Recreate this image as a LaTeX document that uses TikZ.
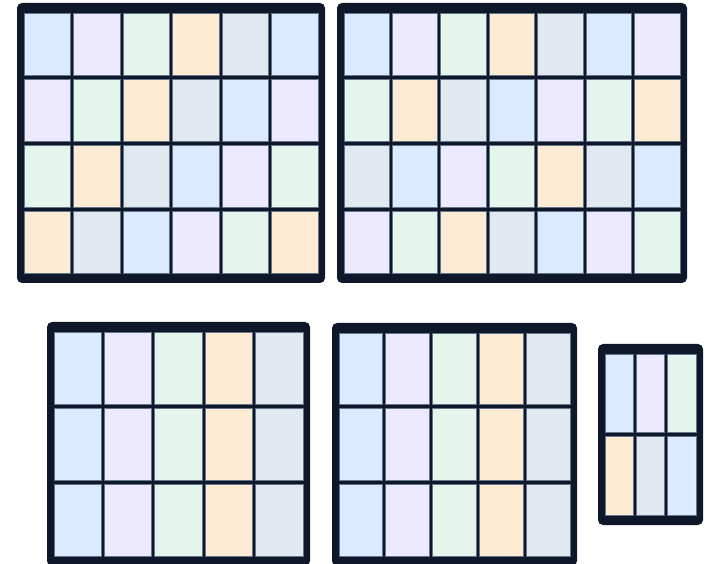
\documentclass[tikz,border=0pt]{standalone}
\definecolor{frame}{HTML}{0F172A}
\definecolor{cellline}{HTML}{64748B}
\definecolor{c0}{HTML}{DBEAFE}
\definecolor{c1}{HTML}{EDE9FE}
\definecolor{c2}{HTML}{E4F5EC}
\definecolor{c3}{HTML}{FDECD3}
\definecolor{c4}{HTML}{E2E8F0}
\tikzset{
  framebox/.style={fill=frame, rounded corners=5pt},
  cellbox/.style={draw=cellline, line width=0.9pt}
}
% #1 x0, #2 y0, #3 x1, #4 y1 (outer, px, top-down), #5 cols, #6 rows
\newcommand\gridbox[6]{%
  \fill[framebox] (#1,#2) rectangle (#3,#4);
  \pgfmathsetmacro\gw{((#3)-(#1)-14-((#5)-1)*3)/(#5)}%
  \pgfmathsetmacro\gh{((#4)-(#2)-20-((#6)-1)*4)/(#6)}%
  \foreach \r in {1,...,#6}{\foreach \c in {1,...,#5}{%
    \pgfmathtruncatemacro\idx{mod((\r-1)*(#5)+\c-1,5)}%
    \pgfmathsetmacro\cx{#1+7+(\c-1)*(\gw+3)}%
    \pgfmathsetmacro\cy{#2+10+(\r-1)*(\gh+4)}%
    \filldraw[cellbox, fill=c\idx] (\cx,\cy) rectangle ++(\gw,\gh);
  }}%
}
\begin{document}
\begin{tikzpicture}[x=1pt,y=-1pt]
\useasboundingbox (0,0) rectangle (705,564);
\clip (0,0) rectangle (705,564);
\gridbox{17}{3}{325}{283}{6}{4}
\gridbox{337}{3}{687}{283}{7}{4}
\gridbox{47}{322}{310}{566}{5}{3}
\gridbox{332}{323}{577}{566}{5}{3}
\gridbox{598}{344}{703}{525}{3}{2}
\end{tikzpicture}
\end{document}
